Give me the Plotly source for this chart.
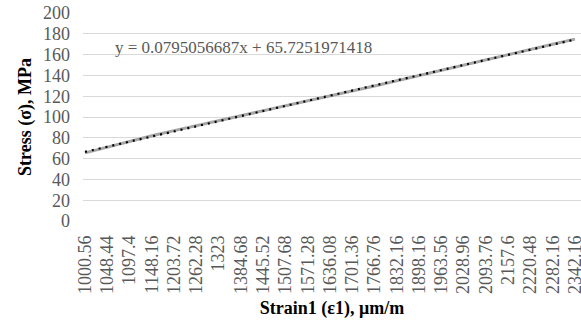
import numpy as np
import plotly.graph_objects as go

# Strain categories (tick labels shown on the category axis)
strain_labels = ["1000.56", "1048.44", "1097.4", "1148.16", "1203.72", "1262.28",
                 "1323", "1384.68", "1445.52", "1507.68", "1571.28", "1636.08",
                 "1701.36", "1766.76", "1832.16", "1898.16", "1963.56", "2028.96",
                 "2093.76", "2157.6", "2220.48", "2282.16", "2342.16"]

# Stress values (MPa)
stress_values = [65.5, 71.1, 76.6, 81.9, 86.9, 91.6, 96.3, 101.1, 105.9, 110.7,
                 115.4, 120.1, 124.9, 129.8, 134.8, 139.9, 145.0, 150.0, 154.9,
                 159.9, 164.9, 169.9, 174.9]

trend_label = "y = 0.0795056687x + 65.7251971418"

# Linear trendline fitted to the series
idx = np.arange(len(stress_values))
slope, intercept = np.polyfit(idx, stress_values, 1)
trend_values = slope * idx + intercept

SERIF = "'Liberation Serif', 'Times New Roman', serif"
GRAY_TXT = "#595959"

fig = go.Figure()
fig.add_trace(go.Scatter(
    x=strain_labels, y=stress_values, mode="lines",
    line=dict(color="#a6a6a6", width=3), showlegend=False, hoverinfo="skip"))
fig.add_trace(go.Scatter(
    x=strain_labels, y=trend_values, mode="lines",
    line=dict(color="#000000", width=2.2, dash="2px,5px"), showlegend=False, hoverinfo="skip"))

fig.add_annotation(
    text=trend_label, xref="paper", yref="paper", x=0.06, y=0.835,
    xanchor="left", yanchor="middle", showarrow=False,
    font=dict(family=SERIF, size=17, color=GRAY_TXT))

fig.update_layout(
    width=581, height=328,
    margin=dict(l=83, r=0, t=13, b=107),
    paper_bgcolor="white", plot_bgcolor="white",
    font=dict(family=SERIF),
    xaxis=dict(
        type="category", range=[-0.09, 22.27], automargin=False,
        tickangle=-90, ticks="", ticklabelstandoff=10,
        tickfont=dict(family=SERIF, size=18, color=GRAY_TXT),
        showgrid=False, showline=False, zeroline=False,
        title=dict(text="<b>Strain1 (ε1), μm/m</b>", standoff=8,
                   font=dict(family=SERIF, size=18, color="#000000")),
    ),
    yaxis=dict(
        range=[0, 200], dtick=20, ticks="", ticklabelstandoff=12, automargin=False,
        tickfont=dict(family=SERIF, size=18, color=GRAY_TXT),
        showgrid=True, gridcolor="#d9d9d9", gridwidth=1,
        zeroline=False, showline=False,
        title=dict(text="<b>Stress (σ), MPa</b>", standoff=6,
                   font=dict(family=SERIF, size=18, color="#000000")),
    ),
)

fig.write_html("out.html",
               config={"displayModeBar": False},
               post_script="document.body.style.margin='0';document.body.style.padding='0';")
